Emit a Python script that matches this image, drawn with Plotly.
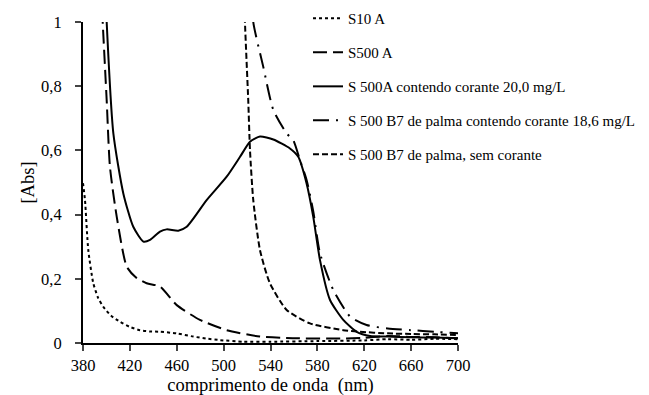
import plotly.graph_objects as go

# ---- data ----
s10a_x = [380, 381.7, 384.5, 388.8, 393, 397.3, 404, 411.6, 420, 428.6, 437, 445.7, 460, 474.1, 485, 496.9, 516.8, 540, 580, 620, 640, 660, 680, 700]
s10a_y = [0.498, 0.445, 0.29, 0.186, 0.14, 0.113, 0.085, 0.066, 0.05, 0.040, 0.036, 0.035, 0.030, 0.020, 0.014, 0.009, 0.004, 0.004, 0.006, 0.008, 0.012, 0.01, 0.013, 0.012]

s500a_x = [395.5, 396.8, 400.2, 403, 408.8, 417.3, 425, 434.3, 445.7, 460, 479.8, 502.6, 531, 559, 600, 620, 640, 660, 680, 700]
s500a_y = [1.1, 1.0, 0.757, 0.549, 0.393, 0.238, 0.205, 0.186, 0.176, 0.118, 0.072, 0.040, 0.020, 0.015, 0.014, 0.016, 0.022, 0.019, 0.018, 0.015]

s500a_dye_x = [399.2, 400.2, 405.9, 414.4, 422.9, 431.5, 437.2, 445.7, 451.4, 461.3, 468.5, 485.5, 502.6, 514, 522.5, 531, 542.4, 556.6, 563.7, 570.8, 576.5, 582.2, 590.8, 602.1, 613.5, 625, 640, 660, 680, 700]
s500a_dye_y = [1.1, 1.0, 0.653, 0.466, 0.362, 0.316, 0.321, 0.347, 0.354, 0.350, 0.362, 0.445, 0.518, 0.580, 0.627, 0.643, 0.634, 0.606, 0.580, 0.497, 0.393, 0.259, 0.134, 0.072, 0.035, 0.022, 0.020, 0.018, 0.017, 0.015]

b7_dye_x = [524.8, 525.3, 533.8, 542.4, 553.8, 559.4, 565.1, 570.8, 576.5, 582.2, 593.6, 608, 622, 640, 660, 680, 700]
b7_dye_y = [1.1, 1.0, 0.861, 0.726, 0.653, 0.632, 0.570, 0.508, 0.41, 0.28, 0.165, 0.082, 0.056, 0.045, 0.04, 0.035, 0.03]

b7_x = [517.5, 518.2, 521, 522.5, 525.3, 531, 539.5, 553.8, 573.7, 602.1, 616.3, 640, 660, 680, 700]
b7_y = [1.1, 1.0, 0.757, 0.601, 0.445, 0.290, 0.186, 0.103, 0.061, 0.040, 0.035, 0.030, 0.028, 0.027, 0.025]

x_ticks = [380, 420, 460, 500, 540, 580, 620, 660, 700]
y_ticks = [0, 0.2, 0.4, 0.6, 0.8, 1]
y_tick_text = ["0", "0,2", "0,4", "0,6", "0,8", "1"]

FONT = "Liberation Serif, Times New Roman, serif"

series = [
    ("S10 A", s10a_x, s10a_y, "dot", 2),
    ("S500 A", s500a_x, s500a_y, "14px,6px", 2),
    ("S 500A contendo corante 20,0 mg/L", s500a_dye_x, s500a_dye_y, "solid", 2),
    ("S 500 B7 de palma contendo corante 18,6 mg/L", b7_dye_x, b7_dye_y, "16px,7px,2px,7px", 2),
    ("S 500 B7 de palma, sem corante", b7_x, b7_y, "6px,3px", 2),
]

fig = go.Figure()
for i, (name, xs, ys, dash, w) in enumerate(series):
    fig.add_trace(go.Scatter(
        x=xs, y=ys, mode="lines", name=name, legendgroup=f"g{i}",
        line=dict(color="black", width=w, dash=dash, shape="spline", smoothing=0.6),
    ))

fig.update_layout(
    width=649, height=395,
    margin=dict(l=75, r=199, t=14, b=60, autoexpand=False),
    paper_bgcolor="white", plot_bgcolor="white",
    font=dict(family=FONT, size=16, color="black"),
    showlegend=True,
    legend=dict(x=0.6, y=1.062, xanchor="left", yanchor="top",
                font=dict(family=FONT, size=15, color="black"),
                tracegroupgap=11.5, bgcolor="rgba(0,0,0,0)"),
)
fig.update_xaxes(
    range=[380, 700], tickvals=x_ticks, ticks="outside", ticklen=6, tickwidth=2,
    showline=True, linecolor="black", linewidth=2, showgrid=False, zeroline=False,
    title=dict(text="comprimento de onda  (nm)", standoff=2, font=dict(family=FONT, size=18.5)),
    tickfont=dict(family=FONT, size=16.5), automargin=False,
)
fig.update_yaxes(
    range=[0, 1], tickvals=y_ticks, ticktext=y_tick_text, ticks="outside", ticklen=6, tickwidth=2,
    showline=True, linecolor="black", linewidth=2, showgrid=False, zeroline=False,
    ticklabelstandoff=10,
    title=dict(text="[Abs]", standoff=2, font=dict(family=FONT, size=18.5)),
    tickfont=dict(family=FONT, size=16.5), automargin=False,
)

fig.write_html("out.html")
